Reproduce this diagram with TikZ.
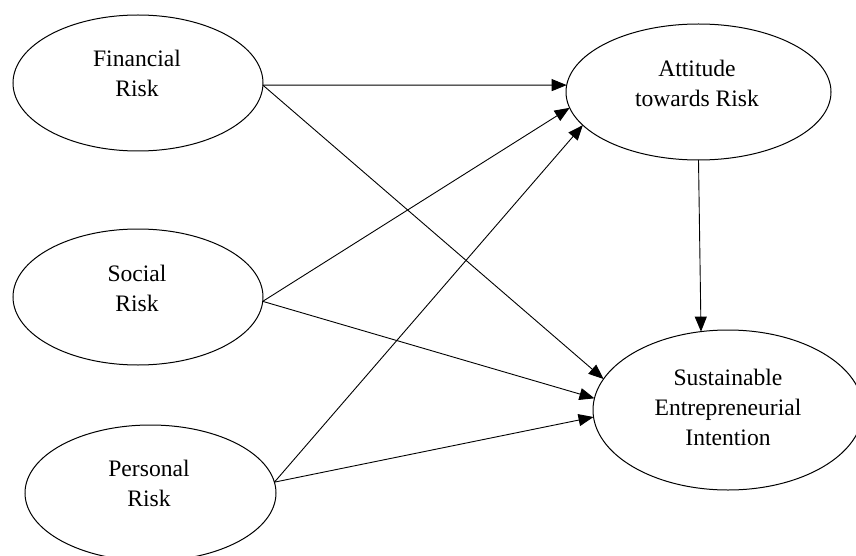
\documentclass[tikz,border=0pt]{standalone}
\usepackage{fontspec}
\setmainfont{Liberation Serif}
\usetikzlibrary{shapes.geometric,arrows.meta}
\begin{document}
\begin{tikzpicture}[x=1pt,y=-1pt,
  oval/.style={draw, ellipse, line width=1pt, inner sep=0pt, outer sep=0pt},
  lbl/.style={align=center, font=\fontsize{23.6}{30}\selectfont, inner sep=0pt},
  conn/.style={line width=0.9pt, -{Triangle[length=15pt,width=12pt]}}]
\useasboundingbox (0,0) rectangle (856,556);
\node[oval, minimum width=250pt, minimum height=136pt] (fin) at (138,83) {};
\node[oval, minimum width=250pt, minimum height=136pt] (soc) at (138,297) {};
\node[oval, minimum width=251pt, minimum height=136pt] (per) at (150.5,493) {};
\node[oval, minimum width=265pt, minimum height=136pt] (att) at (698.5,92) {};
\node[oval, minimum width=270pt, minimum height=160pt] (sei) at (728,410) {};
\node[lbl] (tfin) at (137,73) {Financial\\Risk};
\node[lbl] (tsoc) at (137,288) {Social\\Risk};
\node[lbl] (tper) at (149,483) {Personal\\Risk};
\node[lbl] (tatt) at (697,83) {Attitude\\towards Risk};
\node[lbl] (tsei) at (728,407) {Sustainable\\Entrepreneurial\\Intention};
\draw[conn] (fin.-1) -- (att.177.8);
\draw[conn] (fin.-1) -- (sei.166);
\draw[conn] (soc.-2) -- (att.187);
\draw[conn] (soc.-2) -- (sei.175.8);
\draw[conn] (per.5) -- (att.196.5);
\draw[conn] (per.5) -- (sei.183.4);
\draw[conn] (att.270) -- (sei.109);
\end{tikzpicture}
\end{document}
